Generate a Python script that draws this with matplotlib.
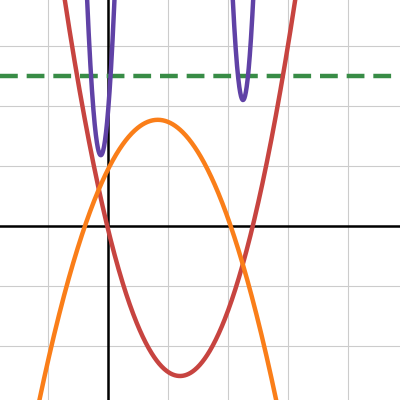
import numpy as np
import matplotlib.pyplot as plt

# view window (graph units)
x_min, x_max = -1.8, 4.867
y_min, y_max = -2.9, 3.767

# curve parameters: y = a*(x - h)**2 + k
red = dict(a=1.7, h=1.2, k=-2.5)
orange = dict(a=-1.2, h=0.83, k=1.77)
purple_left = dict(a=50, h=-0.12, k=1.18)
purple_right = dict(a=58, h=2.25, k=2.1)
green_level = 2.5

fig = plt.figure(figsize=(4, 4), dpi=100)
ax = fig.add_axes([0, 0, 1, 1])
ax.set_xlim(x_min, x_max)
ax.set_ylim(y_min, y_max)

for v in np.arange(-1, 5):
    ax.axvline(v, color='#cccccc', lw=0.8, zorder=0)
for v in np.arange(-2, 4):
    ax.axhline(v, color='#cccccc', lw=0.8, zorder=0)
ax.axhline(0, color='black', lw=1.8, zorder=1)
ax.axvline(0, color='black', lw=1.8, zorder=1)

def par(p, xs):
    return p['a'] * (xs - p['h']) ** 2 + p['k']

xs = np.linspace(x_min, x_max, 800)
ax.plot(xs, par(red, xs), color='#c74440', lw=3.2, zorder=3)
ax.plot(xs, par(orange, xs), color='#fa7e19', lw=3.2, zorder=4)
xl = np.linspace(-0.45, 0.2, 300)
ax.plot(xl, par(purple_left, xl), color='#6042a6', lw=3.2, zorder=5)
xr = np.linspace(1.95, 2.55, 300)
ax.plot(xr, par(purple_right, xr), color='#6042a6', lw=3.2, zorder=5)
ax.axhline(green_level, color='#388c46', lw=3.2, ls=(0, (4, 2)), zorder=2)

ax.set_xticks([])
ax.set_yticks([])
for s in ax.spines.values():
    s.set_visible(False)

fig.savefig('out.png')
